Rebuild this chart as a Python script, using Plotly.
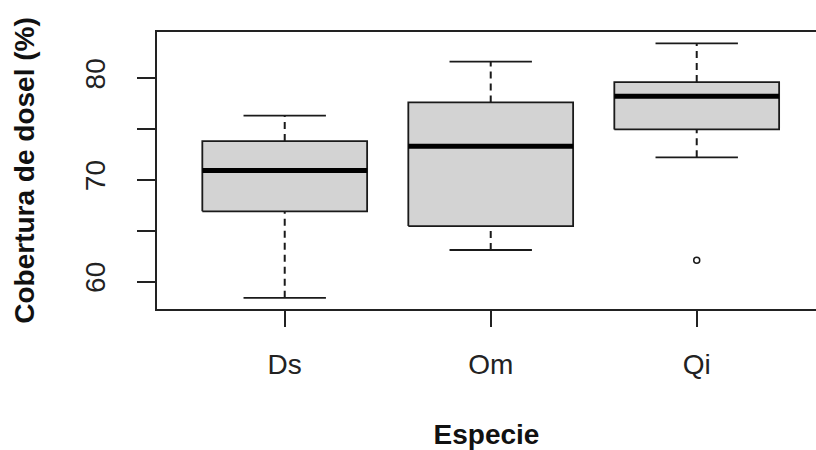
import plotly.graph_objects as go

categories = ["Ds", "Om", "Qi"]
lower_whisker = [58.4, 63.1, 72.2]
q1 = [66.9, 65.45, 74.95]
median = [70.9, 73.3, 78.2]
q3 = [73.8, 77.6, 79.6]
upper_whisker = [76.3, 81.6, 83.4]
outlier_cat = ["Qi"]
outlier_val = [62.1]
y_ticks = [60, 65, 70, 75, 80]
y_tick_text = ["60", "", "70", "", "80"]

BOX_W = 0.8
CAP_W = 0.4
FONT = "Liberation Sans, Arial, sans-serif"

fig = go.Figure()
for i, c in enumerate(categories):
    x = i + 1
    # box
    fig.add_trace(go.Scatter(
        x=[x - BOX_W / 2, x + BOX_W / 2, x + BOX_W / 2, x - BOX_W / 2, x - BOX_W / 2],
        y=[q1[i], q1[i], q3[i], q3[i], q1[i]],
        mode="lines", fill="toself", fillcolor="#D3D3D3",
        line=dict(color="#1a1a1a", width=1.8), showlegend=False, hoverinfo="skip"))
    # whiskers
    for a, b in [(lower_whisker[i], q1[i]), (q3[i], upper_whisker[i])]:
        fig.add_trace(go.Scatter(x=[x, x], y=[a, b], mode="lines",
                                 line=dict(color="#1a1a1a", width=2, dash="7px,5px"),
                                 showlegend=False, hoverinfo="skip"))
    # caps
    for v in [lower_whisker[i], upper_whisker[i]]:
        fig.add_trace(go.Scatter(x=[x - CAP_W / 2, x + CAP_W / 2], y=[v, v], mode="lines",
                                 line=dict(color="#1a1a1a", width=1.8),
                                 showlegend=False, hoverinfo="skip"))
    # median
    fig.add_trace(go.Scatter(x=[x - BOX_W / 2, x + BOX_W / 2], y=[median[i], median[i]],
                             mode="lines", line=dict(color="black", width=5),
                             showlegend=False, hoverinfo="skip"))

fig.add_trace(go.Scatter(
    x=[categories.index(c) + 1 for c in outlier_cat], y=outlier_val, mode="markers",
    marker=dict(symbol="circle-open", size=6, color="#1a1a1a", line=dict(width=1.5)),
    showlegend=False, hoverinfo="skip"))

fig.update_layout(
    width=816, height=450,
    margin=dict(l=157, r=0, t=32, b=141),
    plot_bgcolor="white", paper_bgcolor="white",
    font=dict(family=FONT, color="#222"),
    xaxis=dict(
        range=[0.38, 0.38 + 659 / 206], tickvals=[1, 2, 3], ticktext=categories,
        showgrid=False, zeroline=False, showline=True, linecolor="#222", linewidth=1.6,
        mirror=True, ticks="outside", ticklen=16, tickwidth=1.6, tickcolor="#222",
        ticklabelstandoff=14,
        tickfont=dict(size=28, family=FONT, color="#222"),
        title=dict(text="<b>Especie</b>", font=dict(size=28, family=FONT, color="#111"), standoff=45),
    ),
    yaxis=dict(
        range=[57.3, 84.52], tickvals=y_ticks, ticktext=y_tick_text, tickangle=-90,
        showgrid=False, zeroline=False, showline=True, linecolor="#222", linewidth=1.6,
        mirror=False, ticks="outside", ticklen=18, tickwidth=1.6, tickcolor="#222",
        ticklabelstandoff=21,
        tickfont=dict(size=28, family=FONT, color="#222"),
        title=dict(text="<b>Cobertura de dosel (%)</b>", font=dict(size=28, family=FONT, color="#111"), standoff=37),
    ),
)

fig.write_html("out.html")
